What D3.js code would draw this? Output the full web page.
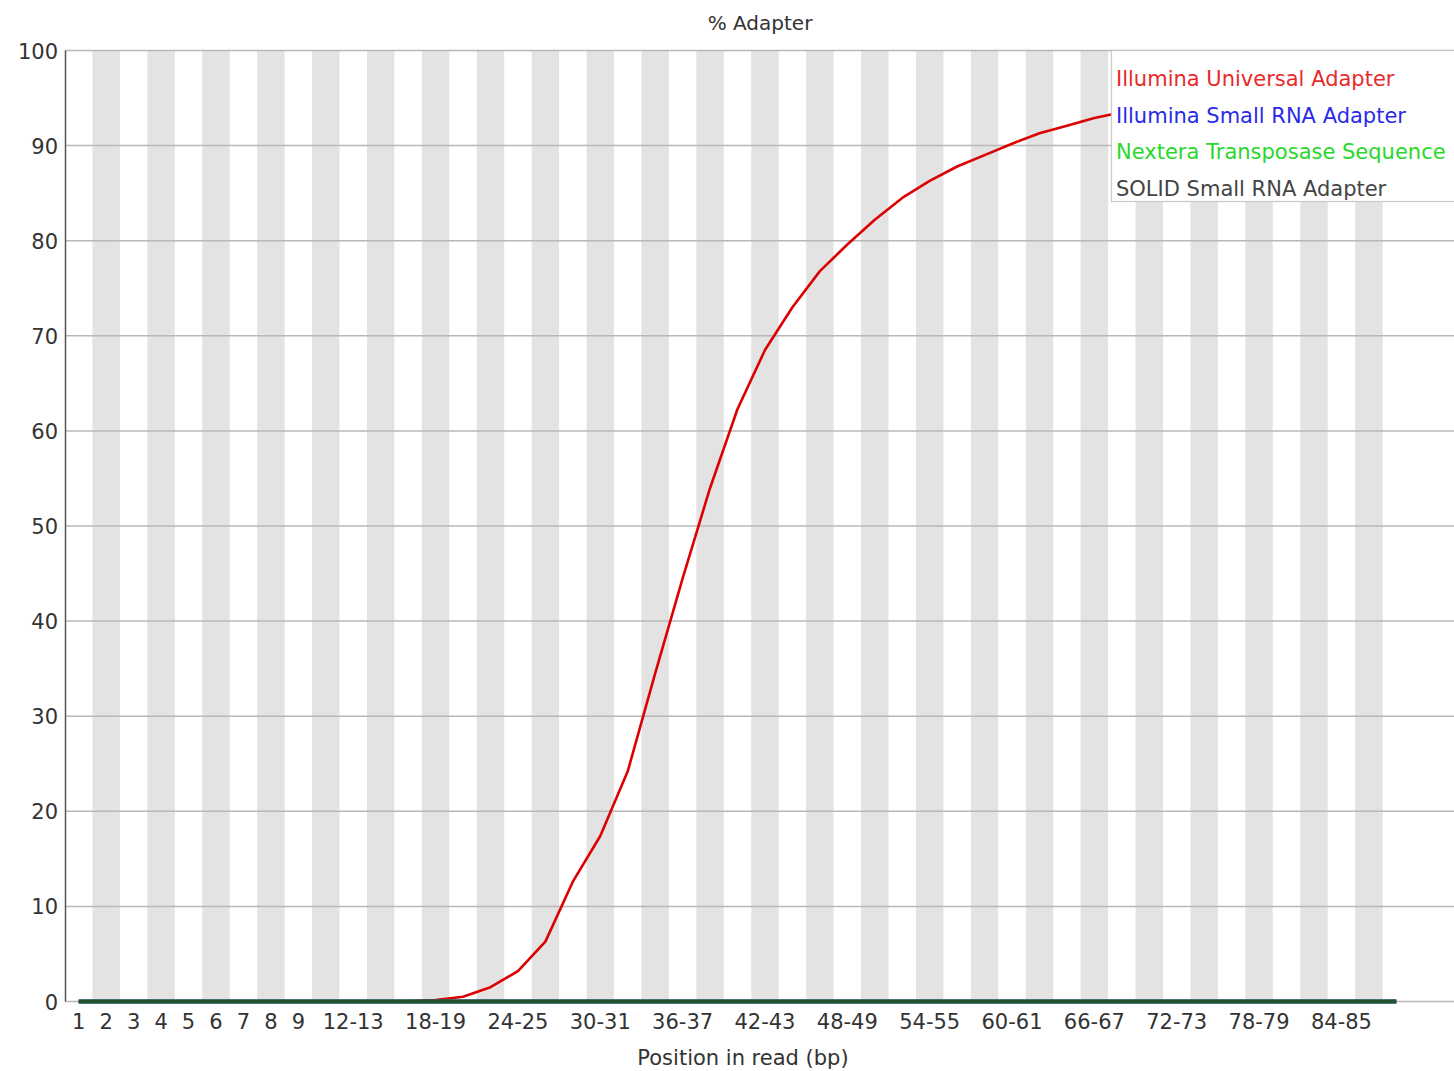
<!DOCTYPE html>
<html>
<head>
<meta charset="utf-8">
<script src="https://cdn.jsdelivr.net/npm/d3@7"></script>
<style>
  html, body { margin: 0; padding: 0; background: #ffffff; }
  svg { display: block; }
  text { font-family: "DejaVu Sans", sans-serif; }
</style>
</head>
<body>
<div id="chart"></div>
<script>
// ---- data ----
const categories = ["1","2","3","4","5","6","7","8","9",
  "10-11","12-13","14-15","16-17","18-19","20-21","22-23","24-25","26-27","28-29",
  "30-31","32-33","34-35","36-37","38-39","40-41","42-43","44-45","46-47","48-49",
  "50-51","52-53","54-55","56-57","58-59","60-61","62-63","64-65","66-67","68-69",
  "70-71","72-73","74-75","76-77","78-79","80-81","82-83","84-85","86-87","88-89"];

const xTickLabels = ["1","2","3","4","5","6","7","8","9","12-13","18-19","24-25",
  "30-31","36-37","42-43","48-49","54-55","60-61","66-67","72-73","78-79","84-85"];

const yTicks = [0,10,20,30,40,50,60,70,80,90,100];

const illuminaUniversal = [0,0,0,0,0,0,0,0,0,0,0,0,0.03,0.15,0.5,1.5,3.2,6.3,12.6,
  17.4,24.2,34.5,44.5,54.0,62.3,68.5,73.0,76.8,79.6,
  82.2,84.5,86.3,87.8,89.0,90.2,91.3,92.1,92.9,93.5,
  94.0,94.4,94.8,95.1,95.4,95.7,96.0,96.2,96.4,96.6];
const illuminaSmallRNA = categories.map(() => 0);
const nexteraTransposase = categories.map(() => 0);
const solidSmallRNA = categories.map(() => 0);

const seriesNames = ["Illumina Universal Adapter","Illumina Small RNA Adapter",
  "Nextera Transposase Sequence","SOLID Small RNA Adapter"];

const chartTitle = "% Adapter";
const xAxisTitle = "Position in read (bp)";

// ---- layout ----
const W = 1454, H = 1071;
const mLeft = 65, mRight = 1454, mTop = 50.5, mBottom = 1001.5;
const bandW = 27.45;

const svg = d3.select("#chart").append("svg").attr("width", W).attr("height", H);

const x = d3.scaleBand().domain(categories)
  .range([mLeft, mLeft + categories.length * bandW]).paddingInner(0).paddingOuter(0);
const y = d3.scaleLinear().domain([0, 100]).range([mBottom, mTop]);

// stripes
svg.append("g").selectAll("rect")
  .data(categories.filter((c, i) => i % 2 === 1))
  .join("rect")
  .attr("x", d => x(d))
  .attr("y", y(100))
  .attr("width", x.bandwidth())
  .attr("height", y(0) - y(100))
  .attr("fill", "#e3e3e3");

// gridlines
svg.append("g").selectAll("line")
  .data(yTicks)
  .join("line")
  .attr("x1", mLeft).attr("x2", mRight)
  .attr("y1", d => y(d)).attr("y2", d => y(d))
  .attr("stroke", "#b8b8b8").attr("stroke-width", 1.5);

// y axis line
svg.append("line")
  .attr("x1", mLeft + 0.5).attr("x2", mLeft + 0.5)
  .attr("y1", y(100)).attr("y2", y(0))
  .attr("stroke", "#555").attr("stroke-width", 1.5);

// y tick labels
svg.append("g").selectAll("text")
  .data(yTicks)
  .join("text")
  .attr("x", 58)
  .attr("y", d => y(d) + 8)
  .attr("text-anchor", "end")
  .attr("font-size", 21)
  .attr("fill", "#333")
  .text(d => d);

// x tick labels
svg.append("g").selectAll("text")
  .data(xTickLabels)
  .join("text")
  .attr("x", d => x(d) + x.bandwidth() / 2)
  .attr("y", 1029)
  .attr("text-anchor", "middle")
  .attr("font-size", 21)
  .attr("fill", "#333")
  .text(d => d);

// lines
const line = d3.line()
  .x((d, i) => x(categories[i]) + x.bandwidth() / 2)
  .y(d => y(d));

svg.append("path").datum(illuminaUniversal)
  .attr("d", line).attr("fill", "none")
  .attr("stroke", "#dd0000").attr("stroke-width", 2.6)
  .attr("stroke-linejoin", "round");
svg.append("path").datum(illuminaSmallRNA)
  .attr("d", line).attr("fill", "none")
  .attr("stroke", "#2020dc").attr("stroke-width", 4);
svg.append("path").datum(nexteraTransposase)
  .attr("d", line).attr("fill", "none")
  .attr("stroke", "#30b050").attr("stroke-width", 4);
svg.append("path").datum(solidSmallRNA)
  .attr("d", line).attr("fill", "none")
  .attr("stroke", "#1a1a1a").attr("stroke-opacity", 0.62).attr("stroke-width", 4);

// legend
const legColors = ["#e82a2a", "#2a2ae8", "#2ad82a", "#444444"];
const lg = svg.append("g");
lg.append("rect")
  .attr("x", 1111.5).attr("y", 50.5)
  .attr("width", 360).attr("height", 151)
  .attr("fill", "#ffffff").attr("stroke", "#c8c8c8").attr("stroke-width", 1.2);
lg.selectAll("text")
  .data(seriesNames)
  .join("text")
  .attr("x", 1116)
  .attr("y", (d, i) => 86 + i * 36.6)
  .attr("font-size", 21)
  .attr("fill", (d, i) => legColors[i])
  .text(d => d);

// title
svg.append("text")
  .attr("x", 760).attr("y", 30)
  .attr("text-anchor", "middle")
  .attr("font-size", 20)
  .attr("fill", "#333")
  .text(chartTitle);

svg.append("text")
  .attr("x", 743).attr("y", 1065)
  .attr("text-anchor", "middle")
  .attr("font-size", 21)
  .attr("fill", "#333")
  .text(xAxisTitle);
</script>
</body>
</html>
